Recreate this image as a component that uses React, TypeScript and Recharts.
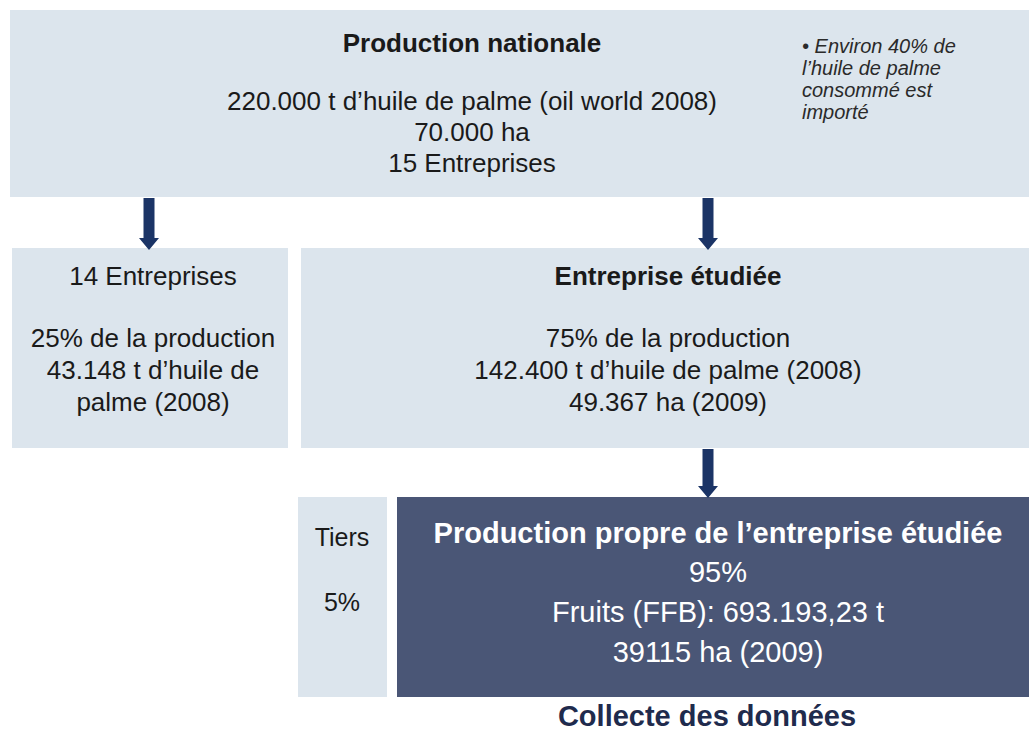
import { ComposedChart, XAxis, YAxis, ReferenceArea, ReferenceDot, ReferenceLine } from 'recharts';

// texts of the diagram
const nationalTitle = 'Production nationale';
const nationalLines = ['220.000 t d’huile de palme (oil world 2008)', '70.000 ha', '15 Entreprises'];
const noteLines = ['• Environ 40% de', 'l’huile de palme', 'consommé est', 'importé'];
const othersTitle = '14 Entreprises';
const othersLines = ['25% de la production', '43.148 t d’huile de', 'palme (2008)'];
const studiedTitle = 'Entreprise étudiée';
const studiedLines = ['75% de la production', '142.400 t d’huile de palme (2008)', '49.367 ha (2009)'];
const thirdLines = ['Tiers', '5%'];
const ownTitle = 'Production propre de l’entreprise étudiée';
const ownLines = ['95%', 'Fruits (FFB): 693.193,23 t', '39115 ha (2009)'];
const footer = 'Collecte des données';

const W = 1029;
const H = 736;
const LIGHT = '#dce5ed';
const DARK = '#4a5676';
const NAVY = '#1b3466';
const FONT = '"Liberation Sans", Arial, Helvetica, sans-serif';

// diagram layout (in chart units, y axis runs top to bottom)
const boxes = [
  { x1: 10, x2: W, y1: 10, y2: 197, fill: LIGHT },
  { x1: 12, x2: 288, y1: 248, y2: 448, fill: LIGHT },
  { x1: 301, x2: W, y1: 248, y2: 448, fill: LIGHT },
  { x1: 298, x2: 387, y1: 497, y2: 697, fill: LIGHT },
  { x1: 397, x2: W, y1: 497, y2: 697, fill: DARK },
];

const arrows = [
  { x: 149, y1: 198, y2: 250 },
  { x: 708, y1: 198, y2: 250 },
  { x: 708, y1: 449, y2: 498 },
];

type BlockStyle = {
  size: number;
  gap: number;
  color?: string;
  weight?: string;
  italic?: boolean;
  anchor?: 'start' | 'middle' | 'end';
};

const textBlock = (lines: string[], s: BlockStyle) => (p: any) => {
  const { x, y } = p.viewBox;
  return (
    <g>
      {lines.map((line, i) => (
        <text
          key={i}
          x={x}
          y={y + i * s.gap}
          dy="0.36em"
          textAnchor={s.anchor || 'middle'}
          fontFamily={FONT}
          fontSize={s.size}
          fontWeight={s.weight || 'normal'}
          fontStyle={s.italic ? 'italic' : 'normal'}
          fill={s.color || '#1a1a1a'}
        >
          {line}
        </text>
      ))}
    </g>
  );
};

const ArrowShape = (p: any) => {
  const { x1, y1, y2 } = p;
  const half = 5.5;
  const head = 10;
  const headLen = 12;
  const d = `M${x1 - half},${y1} L${x1 + half},${y1} L${x1 + half},${y2 - headLen} L${x1 + head},${y2 - headLen} L${x1},${y2} L${x1 - head},${y2 - headLen} L${x1 - half},${y2 - headLen} Z`;
  return <path d={d} fill={NAVY} />;
};

const blocks = [
  { x: 472, y: 43, fn: textBlock([nationalTitle], { size: 26, gap: 0, weight: 'bold' }) },
  { x: 472, y: 101, fn: textBlock(nationalLines, { size: 26, gap: 31 }) },
  { x: 802, y: 46, fn: textBlock(noteLines, { size: 20, gap: 22, italic: true, anchor: 'start', color: '#2a2a2a' }) },
  { x: 153, y: 276, fn: textBlock([othersTitle], { size: 26, gap: 0 }) },
  { x: 153, y: 338, fn: textBlock(othersLines, { size: 26, gap: 32 }) },
  { x: 668, y: 276, fn: textBlock([studiedTitle], { size: 26, gap: 0, weight: 'bold' }) },
  { x: 668, y: 338, fn: textBlock(studiedLines, { size: 26, gap: 32 }) },
  { x: 342, y: 537, fn: textBlock(thirdLines, { size: 25, gap: 65 }) },
  { x: 718, y: 533, fn: textBlock([ownTitle], { size: 29, gap: 0, weight: 'bold', color: '#ffffff' }) },
  { x: 718, y: 572, fn: textBlock(ownLines, { size: 29, gap: 40, color: '#ffffff' }) },
  { x: 707, y: 716, fn: textBlock([footer], { size: 29, gap: 0, weight: 'bold', color: '#1f2b4d' }) },
];

export default function App() {
  return (
    <div style={{ position: 'absolute', left: 0, top: 0, background: '#ffffff' }}>
      <ComposedChart
        width={W}
        height={H}
        data={[{ x: 0, y: 0 }, { x: W, y: H }]}
        margin={{ top: 0, right: 0, bottom: 0, left: 0 }}
      >
        <XAxis type="number" dataKey="x" domain={[0, W]} hide allowDataOverflow />
        <YAxis type="number" dataKey="y" domain={[0, H]} reversed hide allowDataOverflow />
        {boxes.map((b, i) => (
          <ReferenceArea
            key={'b' + i}
            x1={b.x1}
            x2={b.x2}
            y1={b.y1}
            y2={b.y2}
            fill={b.fill}
            fillOpacity={1}
            stroke="none"
            ifOverflow="visible"
          />
        ))}
        {arrows.map((a, i) => (
          <ReferenceLine
            key={'a' + i}
            segment={[{ x: a.x, y: a.y1 }, { x: a.x, y: a.y2 }]}
            shape={ArrowShape}
            ifOverflow="visible"
          />
        ))}
        {blocks.map((t, i) => (
          <ReferenceDot
            key={'t' + i}
            x={t.x}
            y={t.y}
            r={0}
            fill="none"
            stroke="none"
            ifOverflow="visible"
            label={t.fn}
          />
        ))}
      </ComposedChart>
    </div>
  );
}
